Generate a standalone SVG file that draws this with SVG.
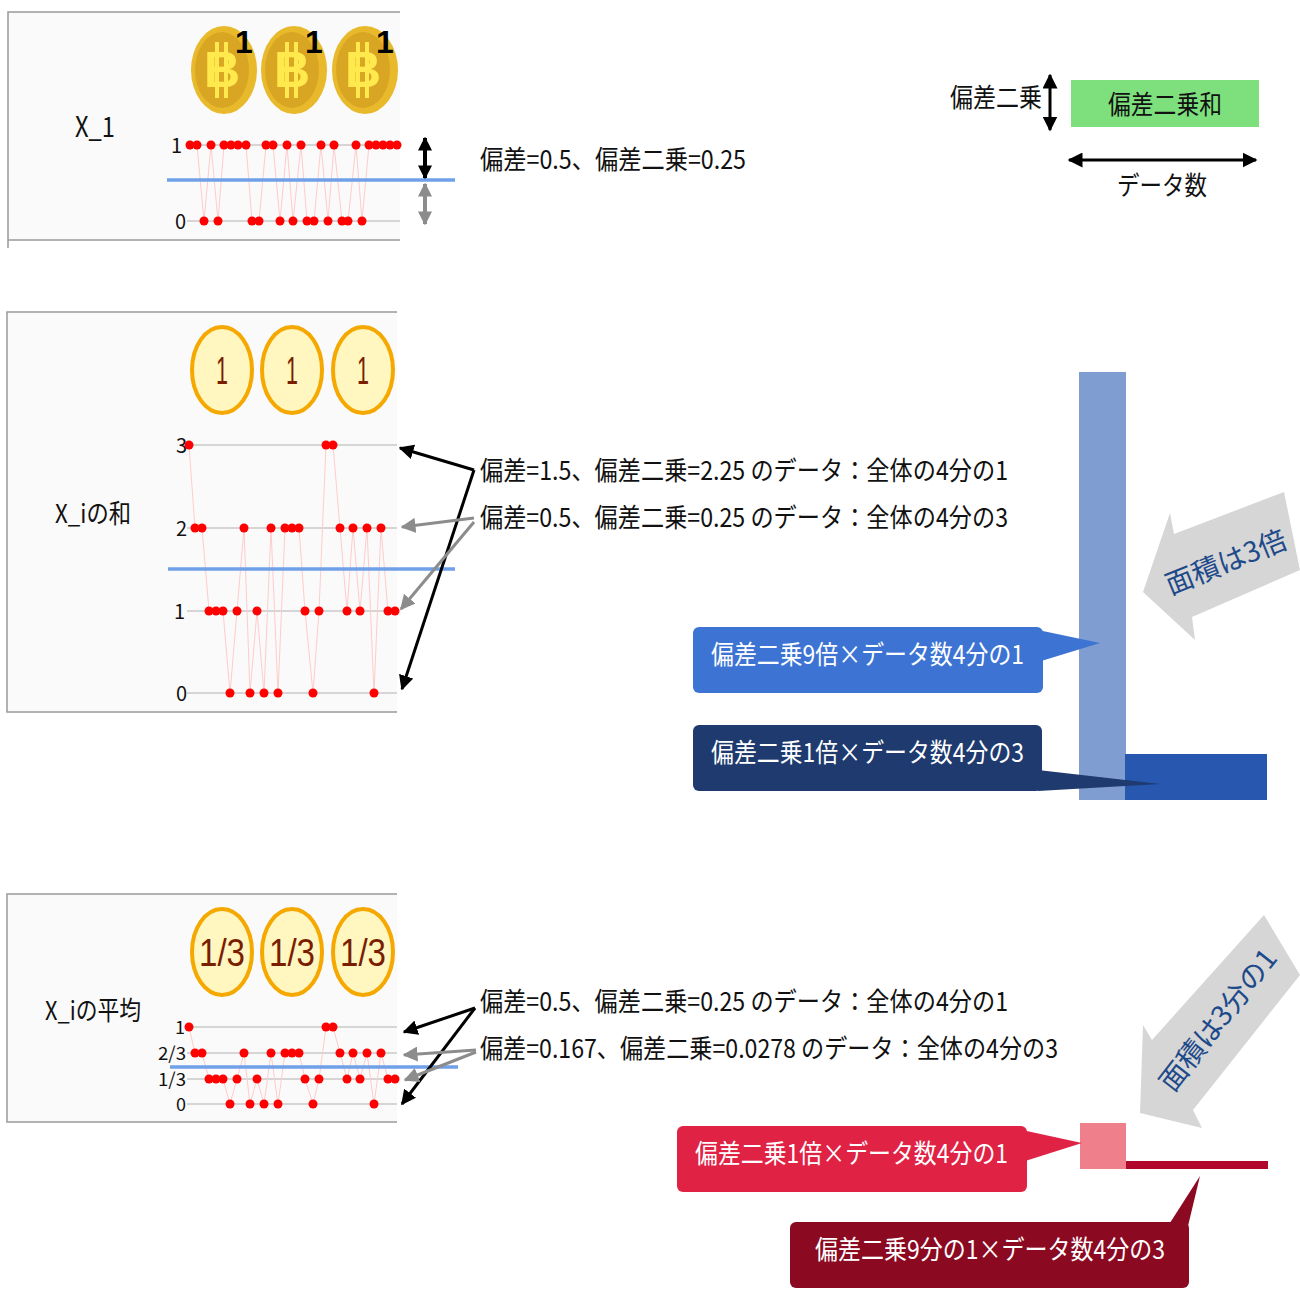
<svg xmlns="http://www.w3.org/2000/svg" xmlns:xlink="http://www.w3.org/1999/xlink" width="1300" height="1300" viewBox="0 0 1300 1300">
<style>
.t{font-family:"Noto Sans CJK JP","Liberation Sans",sans-serif;fill:#111}
.w{font-family:"Noto Sans CJK JP","Liberation Sans",sans-serif;fill:#fff}
.grid{stroke:#c8c8c8;stroke-width:1.5}
.trace{fill:none;stroke:#ffcccc;stroke-width:1}
.dot{fill:#f00}
.blue{stroke:#6fa0e8;stroke-width:3.5}
.frame{fill:#fafafa;stroke:none}
.edge{stroke:#999;stroke-width:1.5;fill:none}
.ocoin{fill:#fff6c0;stroke:#f5a800;stroke-width:4}
.cointxt{font-family:"Liberation Sans Narrow","Liberation Sans",sans-serif;fill:#7a1e00;font-size:38px;text-anchor:middle}
</style>
<defs>
<marker id="ab" viewBox="0 0 10 10" refX="9" refY="5" markerWidth="5" markerHeight="5" orient="auto-start-reverse"><path d="M0,0 L10,5 L0,10 z" fill="#000"/></marker>
<marker id="ag" viewBox="0 0 10 10" refX="9" refY="5" markerWidth="5" markerHeight="5" orient="auto-start-reverse"><path d="M0,0 L10,5 L0,10 z" fill="#8c8c8c"/></marker>
<marker id="sb" viewBox="0 0 10 10" refX="9" refY="5" markerWidth="3.5" markerHeight="3.5" orient="auto-start-reverse"><path d="M0,0 L10,5 L0,10 z" fill="#000"/></marker>
<marker id="sg" viewBox="0 0 10 10" refX="9" refY="5" markerWidth="3.5" markerHeight="3.5" orient="auto-start-reverse"><path d="M0,0 L10,5 L0,10 z" fill="#8c8c8c"/></marker>
<circle id="d" r="4.5" class="dot"/>
<g id="btc">
<ellipse cx="0" cy="0" rx="33" ry="44" fill="#e9b92c"/>
<ellipse cx="-2" cy="0" rx="27" ry="38" fill="#d9a624"/>
<text x="-2" y="17" font-family="Liberation Sans,sans-serif" font-weight="bold" font-size="50" fill="#ffe94c" text-anchor="middle">B</text>
<rect x="-9" y="-28" width="4" height="56" fill="#ffe94c"/><rect x="0" y="-28" width="4" height="56" fill="#ffe94c"/>
</g>
</defs>
<rect width="1300" height="1300" fill="#fff"/>

<g id="panel1">
<rect class="frame" x="8" y="12" width="392" height="228"/>
<path class="edge" d="M400,12 H8 V248 M8,240 H400"/>
<text class="t" x="95" y="137" font-size="28" text-anchor="middle" textLength="40" lengthAdjust="spacingAndGlyphs">X_1</text>
<use xlink:href="#btc" x="224" y="70"/><use xlink:href="#btc" x="294" y="70"/><use xlink:href="#btc" x="365" y="70"/>
<text x="244" y="53" font-family="Liberation Sans,sans-serif" font-weight="bold" font-size="32" fill="#000" text-anchor="middle">1</text>
<text x="314" y="53" font-family="Liberation Sans,sans-serif" font-weight="bold" font-size="32" fill="#000" text-anchor="middle">1</text>
<text x="385" y="53" font-family="Liberation Sans,sans-serif" font-weight="bold" font-size="32" fill="#000" text-anchor="middle">1</text>
<line class="grid" x1="187" y1="145" x2="400" y2="145"/><line class="grid" x1="187" y1="221" x2="400" y2="221"/>
<text class="t" x="182" y="153" font-size="20" text-anchor="end">1</text>
<text class="t" x="186" y="229" font-size="20" text-anchor="end">0</text>
<polyline class="trace" points="190,145 197,145 204,221 211,145 218,221 224,145 231,145 238,145 246,145 252,221 259,221 266,145 273,145 280,221 287,145 293,221 301,145 307,221 314,221 321,145 328,221 334,145 342,221 348,221 356,145 362,221 369,145 376,145 383,145 390,145 397,145"/>
<g>
<use xlink:href="#d" x="190" y="145"/><use xlink:href="#d" x="197" y="145"/><use xlink:href="#d" x="204" y="221"/><use xlink:href="#d" x="211" y="145"/><use xlink:href="#d" x="218" y="221"/><use xlink:href="#d" x="224" y="145"/><use xlink:href="#d" x="231" y="145"/><use xlink:href="#d" x="238" y="145"/><use xlink:href="#d" x="246" y="145"/><use xlink:href="#d" x="252" y="221"/><use xlink:href="#d" x="259" y="221"/><use xlink:href="#d" x="266" y="145"/><use xlink:href="#d" x="273" y="145"/><use xlink:href="#d" x="280" y="221"/><use xlink:href="#d" x="287" y="145"/><use xlink:href="#d" x="293" y="221"/><use xlink:href="#d" x="301" y="145"/><use xlink:href="#d" x="307" y="221"/><use xlink:href="#d" x="314" y="221"/><use xlink:href="#d" x="321" y="145"/><use xlink:href="#d" x="328" y="221"/><use xlink:href="#d" x="334" y="145"/><use xlink:href="#d" x="342" y="221"/><use xlink:href="#d" x="348" y="221"/><use xlink:href="#d" x="356" y="145"/><use xlink:href="#d" x="362" y="221"/><use xlink:href="#d" x="369" y="145"/><use xlink:href="#d" x="376" y="145"/><use xlink:href="#d" x="383" y="145"/><use xlink:href="#d" x="390" y="145"/><use xlink:href="#d" x="397" y="145"/>
</g>
<line class="blue" x1="167" y1="180" x2="455" y2="180"/>
<text class="t" x="480" y="169" font-size="26" textLength="266" lengthAdjust="spacingAndGlyphs">偏差=0.5、偏差二乗=0.25</text>
</g>

<g id="panel2">
<rect class="frame" x="7" y="312" width="390" height="400"/>
<path class="edge" d="M397,312 H7 V712 H397"/>
<text class="t" x="93" y="523" font-size="26" text-anchor="middle" textLength="76" lengthAdjust="spacingAndGlyphs">X_iの和</text>
<ellipse class="ocoin" cx="222" cy="370" rx="30" ry="43"/><ellipse class="ocoin" cx="292" cy="370" rx="30" ry="43"/><ellipse class="ocoin" cx="363" cy="370" rx="30" ry="43"/>
<text class="cointxt" x="222" y="384" textLength="12" lengthAdjust="spacingAndGlyphs">1</text><text class="cointxt" x="292" y="384" textLength="12" lengthAdjust="spacingAndGlyphs">1</text><text class="cointxt" x="363" y="384" textLength="12" lengthAdjust="spacingAndGlyphs">1</text>
<line class="grid" x1="187" y1="445" x2="397" y2="445"/><line class="grid" x1="187" y1="528" x2="397" y2="528"/><line class="grid" x1="187" y1="611" x2="397" y2="611"/><line class="grid" x1="187" y1="693" x2="397" y2="693"/>
<text class="t" x="187" y="453" font-size="20" text-anchor="end">3</text>
<text class="t" x="187" y="536" font-size="20" text-anchor="end">2</text>
<text class="t" x="185" y="619" font-size="20" text-anchor="end">1</text>
<text class="t" x="187" y="701" font-size="20" text-anchor="end">0</text>
<polyline class="trace" points="189,445 195,528 202,528 209,611 216,611 223,611 230,693 237,611 244,528 250,693 257,611 264,693 271,528 278,693 285,528 292,528 299,528 305,611 313,693 319,611 326,445 333,445 340,528 347,611 353,528 360,611 367,528 374,693 381,528 388,611 395,611"/>
<g>
<use xlink:href="#d" x="189" y="445"/><use xlink:href="#d" x="195" y="528"/><use xlink:href="#d" x="202" y="528"/><use xlink:href="#d" x="209" y="611"/><use xlink:href="#d" x="216" y="611"/><use xlink:href="#d" x="223" y="611"/><use xlink:href="#d" x="230" y="693"/><use xlink:href="#d" x="237" y="611"/><use xlink:href="#d" x="244" y="528"/><use xlink:href="#d" x="250" y="693"/><use xlink:href="#d" x="257" y="611"/><use xlink:href="#d" x="264" y="693"/><use xlink:href="#d" x="271" y="528"/><use xlink:href="#d" x="278" y="693"/><use xlink:href="#d" x="285" y="528"/><use xlink:href="#d" x="292" y="528"/><use xlink:href="#d" x="299" y="528"/><use xlink:href="#d" x="305" y="611"/><use xlink:href="#d" x="313" y="693"/><use xlink:href="#d" x="319" y="611"/><use xlink:href="#d" x="326" y="445"/><use xlink:href="#d" x="333" y="445"/><use xlink:href="#d" x="340" y="528"/><use xlink:href="#d" x="347" y="611"/><use xlink:href="#d" x="353" y="528"/><use xlink:href="#d" x="360" y="611"/><use xlink:href="#d" x="367" y="528"/><use xlink:href="#d" x="374" y="693"/><use xlink:href="#d" x="381" y="528"/><use xlink:href="#d" x="388" y="611"/><use xlink:href="#d" x="395" y="611"/>
</g>
<line class="blue" x1="168" y1="569" x2="455" y2="569"/>
<text class="t" x="480" y="480" font-size="26" textLength="528" lengthAdjust="spacingAndGlyphs">偏差=1.5、偏差二乗=2.25 のデータ：全体の4分の1</text>
<text class="t" x="480" y="527" font-size="26" textLength="528" lengthAdjust="spacingAndGlyphs">偏差=0.5、偏差二乗=0.25 のデータ：全体の4分の3</text>
</g>

<g id="panel3">
<rect class="frame" x="7" y="894" width="390" height="228"/>
<path class="edge" d="M397,894 H7 V1122 H397"/>
<text class="t" x="93" y="1020" font-size="26" text-anchor="middle" textLength="96" lengthAdjust="spacingAndGlyphs">X_iの平均</text>
<ellipse class="ocoin" cx="222" cy="952" rx="30" ry="43"/><ellipse class="ocoin" cx="292" cy="952" rx="30" ry="43"/><ellipse class="ocoin" cx="363" cy="952" rx="30" ry="43"/>
<text class="cointxt" x="222" y="966" textLength="46" lengthAdjust="spacingAndGlyphs">1/3</text><text class="cointxt" x="292" y="966" textLength="46" lengthAdjust="spacingAndGlyphs">1/3</text><text class="cointxt" x="363" y="966" textLength="46" lengthAdjust="spacingAndGlyphs">1/3</text>
<line class="grid" x1="187" y1="1027" x2="397" y2="1027"/><line class="grid" x1="187" y1="1053" x2="397" y2="1053"/><line class="grid" x1="187" y1="1079" x2="397" y2="1079"/><line class="grid" x1="187" y1="1104" x2="397" y2="1104"/>
<text class="t" x="185" y="1034" font-size="18" text-anchor="end">1</text>
<text class="t" x="186" y="1060" font-size="18" text-anchor="end" textLength="28" lengthAdjust="spacingAndGlyphs">2/3</text>
<text class="t" x="186" y="1086" font-size="18" text-anchor="end" textLength="28" lengthAdjust="spacingAndGlyphs">1/3</text>
<text class="t" x="186" y="1111" font-size="18" text-anchor="end">0</text>
<polyline class="trace" points="189,1027 195,1053 202,1053 209,1079 216,1079 223,1079 230,1104 237,1079 244,1053 250,1104 257,1079 264,1104 271,1053 278,1104 285,1053 292,1053 299,1053 305,1079 313,1104 319,1079 326,1027 333,1027 340,1053 347,1079 353,1053 360,1079 367,1053 374,1104 381,1053 388,1079 395,1079"/>
<g>
<use xlink:href="#d" x="189" y="1027"/><use xlink:href="#d" x="195" y="1053"/><use xlink:href="#d" x="202" y="1053"/><use xlink:href="#d" x="209" y="1079"/><use xlink:href="#d" x="216" y="1079"/><use xlink:href="#d" x="223" y="1079"/><use xlink:href="#d" x="230" y="1104"/><use xlink:href="#d" x="237" y="1079"/><use xlink:href="#d" x="244" y="1053"/><use xlink:href="#d" x="250" y="1104"/><use xlink:href="#d" x="257" y="1079"/><use xlink:href="#d" x="264" y="1104"/><use xlink:href="#d" x="271" y="1053"/><use xlink:href="#d" x="278" y="1104"/><use xlink:href="#d" x="285" y="1053"/><use xlink:href="#d" x="292" y="1053"/><use xlink:href="#d" x="299" y="1053"/><use xlink:href="#d" x="305" y="1079"/><use xlink:href="#d" x="313" y="1104"/><use xlink:href="#d" x="319" y="1079"/><use xlink:href="#d" x="326" y="1027"/><use xlink:href="#d" x="333" y="1027"/><use xlink:href="#d" x="340" y="1053"/><use xlink:href="#d" x="347" y="1079"/><use xlink:href="#d" x="353" y="1053"/><use xlink:href="#d" x="360" y="1079"/><use xlink:href="#d" x="367" y="1053"/><use xlink:href="#d" x="374" y="1104"/><use xlink:href="#d" x="381" y="1053"/><use xlink:href="#d" x="388" y="1079"/><use xlink:href="#d" x="395" y="1079"/>
</g>
<line class="blue" x1="170" y1="1067" x2="458" y2="1067"/>
<text class="t" x="480" y="1011" font-size="26" textLength="528" lengthAdjust="spacingAndGlyphs">偏差=0.5、偏差二乗=0.25 のデータ：全体の4分の1</text>
<text class="t" x="480" y="1058" font-size="26" textLength="578" lengthAdjust="spacingAndGlyphs">偏差=0.167、偏差二乗=0.0278 のデータ：全体の4分の3</text>
</g>

<g id="legend">
<text class="t" x="950" y="107" font-size="26" textLength="92" lengthAdjust="spacingAndGlyphs">偏差二乗</text>
<rect x="1071" y="80" width="188" height="47" fill="#7de07d"/>
<text class="t" x="1165" y="114" font-size="26" text-anchor="middle" textLength="114" lengthAdjust="spacingAndGlyphs">偏差二乗和</text>
<text class="t" x="1162" y="195" font-size="26" text-anchor="middle" textLength="90" lengthAdjust="spacingAndGlyphs">データ数</text>
</g>

<g id="bars">
<rect x="1079" y="372" width="47" height="428" fill="#7f9dd0"/>
<rect x="1125" y="754" width="142" height="46" fill="#2857b0"/>
<rect x="1080" y="1123" width="46" height="46" fill="#f07f8c"/>
<rect x="1126" y="1161" width="142" height="8" fill="#b0072a"/>
</g>

<g id="bigarrows">
<polygon points="1143,592 1170,513 1174,534 1284,492 1300,570 1192,617 1195,640" fill="#d6d6d6"/>
<text x="1226" y="572" font-family="Noto Sans CJK JP,sans-serif" font-size="28" fill="#1e4a8a" text-anchor="middle" transform="rotate(-22 1226 562)">面積は3倍</text>
<polygon points="1140,1113 1143,1025 1152,1040 1264,915 1300,975 1193,1110 1202,1128" fill="#d6d6d6"/>
<text x="1218" y="1030" font-family="Noto Sans CJK JP,sans-serif" font-size="28" fill="#1e4a8a" text-anchor="middle" transform="rotate(-52 1218 1020)">面積は3分の1</text>
</g>

<g id="callouts">
<g id="c1"><rect x="693" y="627" width="350" height="66" rx="6" fill="#3d74d4"/><polygon points="1038,630 1100,643 1038,662" fill="#3d74d4"/>
<text class="w" x="711" y="664" font-size="26" textLength="313" lengthAdjust="spacingAndGlyphs">偏差二乗9倍×データ数4分の1</text></g>
<g id="c2"><rect x="693" y="725" width="349" height="66" rx="6" fill="#1e3a6e"/><polygon points="1038,770 1160,784 1038,791" fill="#1e3a6e"/>
<text class="w" x="711" y="762" font-size="26" textLength="313" lengthAdjust="spacingAndGlyphs">偏差二乗1倍×データ数4分の3</text></g>
<g id="c3"><rect x="677" y="1126" width="350" height="66" rx="6" fill="#e02245"/><polygon points="1022,1130 1082,1143 1022,1162" fill="#e02245"/>
<text class="w" x="695" y="1163" font-size="26" textLength="313" lengthAdjust="spacingAndGlyphs">偏差二乗1倍×データ数4分の1</text></g>
<g id="c4"><rect x="790" y="1222" width="399" height="66" rx="6" fill="#8b0a22"/><polygon points="1168,1226 1200,1176 1188,1226" fill="#8b0a22"/>
<text class="w" x="815" y="1259" font-size="26" textLength="350" lengthAdjust="spacingAndGlyphs">偏差二乗9分の1×データ数4分の3</text></g>
</g>

<g id="connectors" fill="none" stroke-width="3">
<line x1="425" y1="138" x2="425" y2="178" stroke="#000" stroke-width="4" marker-start="url(#sb)" marker-end="url(#sb)"/>
<line x1="425" y1="184" x2="425" y2="224" stroke="#8c8c8c" stroke-width="4" marker-start="url(#sg)" marker-end="url(#sg)"/>
<line x1="1050" y1="75" x2="1050" y2="130" stroke="#000" marker-start="url(#ab)" marker-end="url(#ab)"/>
<line x1="1069" y1="160" x2="1256" y2="160" stroke="#000" marker-start="url(#ab)" marker-end="url(#ab)"/>
<line x1="474" y1="470" x2="400" y2="448" stroke="#000" marker-end="url(#ab)"/>
<line x1="474" y1="470" x2="402" y2="689" stroke="#000" marker-end="url(#ab)"/>
<line x1="474" y1="518" x2="402" y2="527" stroke="#8c8c8c" marker-end="url(#ag)"/>
<line x1="474" y1="522" x2="401" y2="609" stroke="#8c8c8c" marker-end="url(#ag)"/>
<line x1="475" y1="1008" x2="404" y2="1032" stroke="#000" marker-end="url(#ab)"/>
<line x1="475" y1="1008" x2="402" y2="1104" stroke="#000" marker-end="url(#ab)"/>
<line x1="476" y1="1050" x2="404" y2="1055" stroke="#8c8c8c" marker-end="url(#ag)"/>
<line x1="476" y1="1052" x2="405" y2="1080" stroke="#8c8c8c" marker-end="url(#ag)"/>
</g>
</svg>
